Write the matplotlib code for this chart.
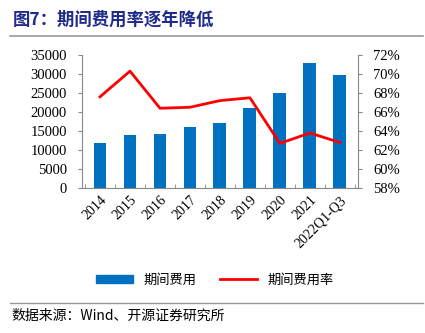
import matplotlib.pyplot as plt
import numpy as np
from matplotlib.lines import Line2D
from matplotlib.patches import Patch

plt.rcParams['font.family'] = ['Liberation Serif', 'Noto Sans CJK SC']

years = ['2014', '2015', '2016', '2017', '2018', '2019', '2020', '2021', '2022Q1-Q3']
expense = [11900, 14000, 14300, 16000, 17200, 21000, 24900, 32800, 29600]
rate = [67.6, 70.3, 66.4, 66.5, 67.2, 67.5, 62.7, 63.8, 62.8]

fig = plt.figure(figsize=(4.25, 3.33), dpi=100)
ax = fig.add_axes([0.193, 0.435, 0.649, 0.4])
x = np.arange(len(years))
ax.bar(x, expense, width=0.43, color='#0070C0', zorder=2)
ax.set_ylim(0, 35000)
ax.set_yticks(range(0, 35001, 5000))
ax.set_xlim(-0.6, len(years) - 0.4)
ax.set_xticks(x)
ax.set_xticklabels(years, rotation=45, ha='right', rotation_mode='anchor', fontsize=10)
ax.tick_params(axis='x', length=0, pad=4)
ax.set_xticks(np.arange(-0.5, len(years), 1), minor=True)
ax.tick_params(axis='x', which='minor', length=3, direction='in', color='#888888')
ax.tick_params(axis='y', labelsize=10.5, length=3, color='#888888', pad=8)
for s in ['top', 'right']:
    ax.spines[s].set_visible(False)
for s in ['left', 'bottom']:
    ax.spines[s].set_color('#888888')

ax2 = ax.twinx()
ax2.plot(x, rate, color='#FF0000', lw=2, zorder=3)
ax2.set_ylim(58, 72)
ax2.set_yticks(range(58, 73, 2))
ax2.set_yticklabels([f'{v}%' for v in range(58, 73, 2)])
ax2.tick_params(axis='y', labelsize=10.5, length=3, color='#888888', pad=8)
for s in ['top', 'left', 'bottom']:
    ax2.spines[s].set_visible(False)
ax2.spines['right'].set_color('#888888')

handles = [Patch(color='#0070C0'), Line2D([], [], color='#FF0000', lw=2)]
fig.legend(handles, ['期间费用', '期间费用率'], loc='center', bbox_to_anchor=(0.505, 0.158),
           ncol=2, frameon=False, prop={'family': 'Noto Sans CJK SC', 'size': 9.5},
           handlelength=2.8, handleheight=0.6, columnspacing=1.8)

fig.text(0.03, 0.94, '图7：期间费用率逐年降低', fontsize=12.5, fontweight='bold',
         color='#1F2A8A', family='Noto Sans CJK SC', va='center')
fig.add_artist(Line2D([0.024, 0.995], [0.893, 0.893], color='#999999', lw=1.2))
fig.add_artist(Line2D([0.024, 0.995], [0.09, 0.09], color='#999999', lw=1))
fig.text(0.028, 0.052, '数据来源：Wind、开源证券研究所', fontsize=10,
         family=['Noto Sans CJK SC'], va='center')

fig.savefig('out.png', dpi=100)
